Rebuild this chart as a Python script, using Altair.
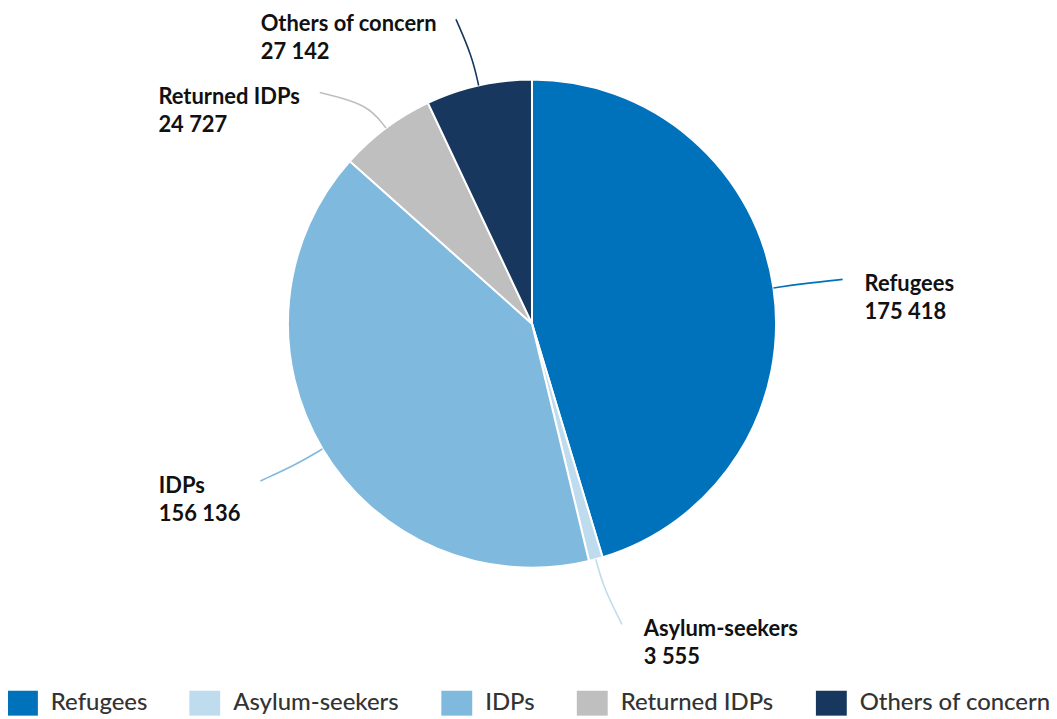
import math
import altair as alt
import pandas as pd

# ---- data ----
categories = ["Refugees", "Asylum-seekers", "IDPs", "Returned IDPs", "Others of concern"]
values = [175418, 3555, 156136, 24727, 27142]
colors = ["#0072BC", "#BFDCEE", "#80B9DE", "#BFBFBF", "#18375F"]

# ---- layout constants ----
W, H = 1045, 711
CX, CY, R = 526, 315.5, 245
LEAD_MID = 30            # radial distance of leader bend point
LEAD_END = 70            # radial distance of leader end
angle_nudge = [0.3, -1.5, 0.8, -5.8, -1.4]   # deg, per-label leader end nudge
left_block_w = {"IDPs": 82, "Returned IDPs": 142, "Others of concern": 176}

total = sum(values)
order = list(range(len(categories)))

pie_df = pd.DataFrame({"cat": categories, "val": values, "ord": order})

line_rows, label_rows = [], []
cum = 0
for i, (c, v) in enumerate(zip(categories, values)):
    mid = (cum + v / 2) / total * 360
    cum += v
    a = math.radians(mid)
    a2 = math.radians(mid + angle_nudge[i])
    p0 = (CX + R * math.sin(a), CY - R * math.cos(a))
    p1 = (CX + (R + LEAD_MID) * math.sin(a), CY - (R + LEAD_MID) * math.cos(a))
    p2 = (CX + (R + LEAD_END) * math.sin(a2), CY - (R + LEAD_END) * math.cos(a2))
    for k, p in enumerate([p0, p1, p2]):
        line_rows.append({"cat": c, "k": k, "x": p[0], "y": p[1]})
    right = math.sin(a) > 0
    tx = p2[0] + 22 if right else p2[0] - 20 - left_block_w[c]
    label_rows.append({"cat": c, "x": tx, "y": p2[1] + 5,
                       "txt": [c, f"{v:,}".replace(",", " ")]})

lines_df = pd.DataFrame(line_rows)
labels_df = pd.DataFrame(label_rows)

color_scale = alt.Scale(domain=categories, range=colors)

arcs = alt.Chart(pie_df).mark_arc(
    radius=R, stroke="white", strokeWidth=2, x=CX, y=CY
).encode(
    theta=alt.Theta("val:Q", stack=True),
    order=alt.Order("ord:Q"),
    color=alt.Color(
        "cat:N", scale=color_scale, sort=categories,
        legend=alt.Legend(
            title=None, orient="none", legendX=2, legendY=684,
            direction="horizontal",
            symbolType="M-1.24,-1H1.24V1H-1.24Z", symbolSize=625,
            symbolStrokeWidth=0, symbolOpacity=1,
            labelFont="Lato", labelFontSize=24, labelFontWeight=500,
            labelColor="#333333",
            labelOffset=16, columnPadding=42, labelLimit=400,
        ),
    ),
)

leaders = alt.Chart(lines_df).mark_line(
    interpolate="basis", strokeWidth=1.6
).encode(
    x=alt.X("x:Q", scale=None, axis=None),
    y=alt.Y("y:Q", scale=None, axis=None),
    detail="cat:N",
    order="k:Q",
    color=alt.Color("cat:N", scale=color_scale, legend=None),
)

labels = alt.Chart(labels_df).mark_text(
    align="left", baseline="middle", font="Lato", fontWeight="bold",
    fontSize=22, lineHeight=28, color="#111111"
).encode(
    x=alt.X("x:Q", scale=None, axis=None),
    y=alt.Y("y:Q", scale=None, axis=None),
    text="txt",
)

chart = alt.layer(arcs, leaders, labels).properties(
    width=W, height=H, padding=0, autosize="none"
).configure_view(stroke=None)

chart.save("out.html", embed_options={"renderer": "svg", "actions": False})
